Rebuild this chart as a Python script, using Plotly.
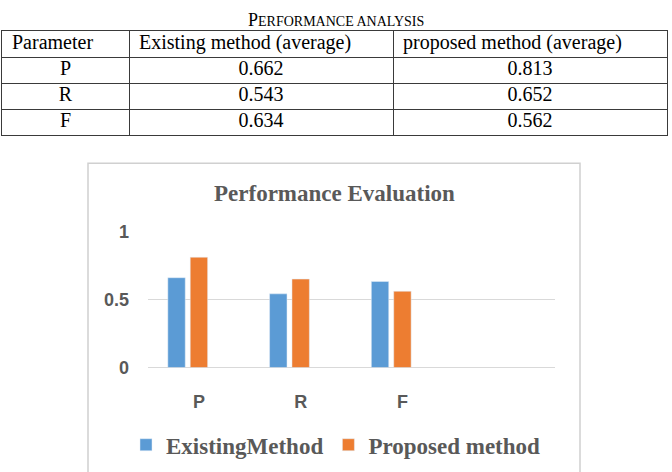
import plotly.graph_objects as go

# ---- data ----
params = ["P", "R", "F"]
existing = [0.662, 0.543, 0.634]
proposed = [0.813, 0.652, 0.562]
existing_txt = ["0.662", "0.543", "0.634"]
proposed_txt = ["0.813", "0.652", "0.562"]
table_header = ["Parameter", "Existing method (average)", "proposed method (average)"]
series_names = ["ExistingMethod", "Proposed method"]
y_ticks = [0, 0.5, 1]
y_ticktext = ["0", "0.5", "1"]

W, H = 672, 472
def px(x):
    return x / W
def py(y):
    return 1 - y / H

BLUE = "#5B9BD5"
ORANGE = "#ED7D31"
GRAY = "#595959"
GRID = "#D9D9D9"
TLINE = "#3a3a3a"

# table geometry (column widths in table-axis units = pixels)
col_w = [127, 264, 274]
col_edges = [0]
for w in col_w:
    col_edges.append(col_edges[-1] + w)
col_centers = [(col_edges[i] + col_edges[i + 1]) / 2 for i in range(3)]
n_rows = 1 + len(params)

fig = go.Figure()

# table header (left aligned)
fig.add_trace(go.Scatter(
    x=[col_edges[i] + 10 for i in range(3)], y=[0.5] * 3,
    text=table_header, mode="text", textposition="middle right",
    textfont=dict(family="Liberation Serif", size=20, color="black"),
    xaxis="x2", yaxis="y2", showlegend=False, hoverinfo="skip",
))
# table body (centered)
body_cols = [params, existing_txt, proposed_txt]
for ci, col in enumerate(body_cols):
    fig.add_trace(go.Scatter(
        x=[col_centers[ci]] * len(col), y=[r + 1.5 for r in range(len(col))],
        text=col, mode="text", textposition="middle center",
        textfont=dict(family="Liberation Serif", size=20, color="black"),
        xaxis="x2", yaxis="y2", showlegend=False, hoverinfo="skip",
    ))

# bars
bw = 0.171
fig.add_trace(go.Bar(
    x=params, y=existing, name=series_names[0],
    marker_color=BLUE, width=bw, offset=-0.305,
))
fig.add_trace(go.Bar(
    x=params, y=proposed, name=series_names[1],
    marker_color=ORANGE, width=bw, offset=-0.085,
))

fig.update_layout(
    width=W, height=H,
    margin=dict(l=0, r=0, t=0, b=0),
    paper_bgcolor="white",
    plot_bgcolor="white",
    barmode="group",
    showlegend=True,
    legend=dict(
        orientation="h", x=0.5, xanchor="center", y=py(454), yanchor="middle",
        font=dict(family="Liberation Serif", size=23, color=GRAY, weight="bold"),
        itemwidth=30, traceorder="normal",
    ),
    xaxis=dict(
        domain=[px(148), px(555)],
        type="category",
        categoryorder="array", categoryarray=params,
        range=[-0.5, 3.5],
        showgrid=False, showline=False, zeroline=False,
        ticks="", ticklabelstandoff=22,
        tickfont=dict(family="Liberation Sans", size=18, color=GRAY, weight="bold"),
        fixedrange=True,
    ),
    yaxis=dict(
        domain=[py(373.3), py(231.7)],
        range=[0, 1],
        tickvals=y_ticks, ticktext=y_ticktext,
        showgrid=True, gridcolor=GRID, gridwidth=1,
        zeroline=True, zerolinecolor=GRID, zerolinewidth=1,
        showline=False, ticks="", ticklabelstandoff=18,
        tickfont=dict(family="Liberation Sans", size=18, color=GRAY, weight="bold"),
        fixedrange=True,
    ),
    xaxis2=dict(
        domain=[px(2), px(667)], anchor="y2",
        range=[0, col_edges[-1]],
        tickvals=col_edges[1:-1], showticklabels=False, ticks="",
        showgrid=True, gridcolor=TLINE, gridwidth=1,
        showline=True, mirror=True, linecolor=TLINE, linewidth=1,
        zeroline=False, fixedrange=True,
    ),
    yaxis2=dict(
        domain=[py(131), py(22)], anchor="x2",
        range=[n_rows, 0],
        tickvals=list(range(1, n_rows)), showticklabels=False, ticks="",
        showgrid=True, gridcolor=TLINE, gridwidth=1,
        showline=True, mirror=True, linecolor=TLINE, linewidth=1,
        zeroline=False, fixedrange=True,
    ),
    shapes=[dict(
        type="rect", xref="paper", yref="paper",
        x0=px(88), x1=px(580), y0=py(490), y1=py(160),
        line=dict(color="#D0D0D0", width=1.5), fillcolor="rgba(0,0,0,0)", layer="below",
    )],
    annotations=[
        dict(
            text="P<span style='font-size:14px'>ERFORMANCE ANALYSIS</span>",
            x=px(336), y=py(-2), xref="paper", yref="paper",
            xanchor="center", yanchor="top", showarrow=False,
            font=dict(family="Liberation Serif", size=18, color="black"),
        ),
        dict(
            text="<b>Performance Evaluation</b>",
            x=px(334), y=py(192), xref="paper", yref="paper",
            xanchor="center", yanchor="middle", showarrow=False,
            font=dict(family="Liberation Serif", size=23, color=GRAY),
        ),
    ],
)

fig.write_html("out.html")
